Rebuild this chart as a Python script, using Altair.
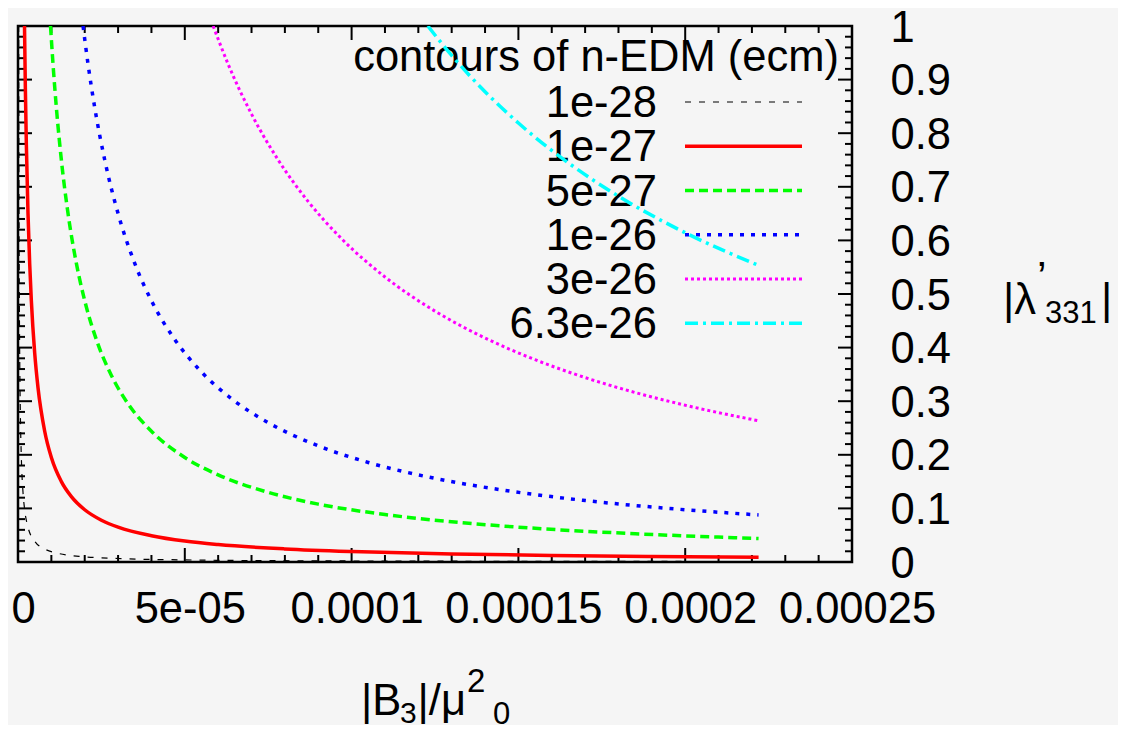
import altair as alt
import pandas as pd

# ---------------- data (x in units of 1e-5) ----------------
X_UNIT = 1e-5

series_names = ["1e-28", "1e-27", "5e-27", "1e-26", "3e-26", "6.3e-26"]
series_colors = ["#000000", "#ff0000", "#00ff00", "#0000ff", "#ff00ff", "#00ffff"]

x_1e28 = [0.0195, 0.025, 0.03, 0.04, 0.05, 0.07, 0.1, 0.15, 0.2, 0.3, 0.5, 0.8, 1.2, 2, 3, 5, 8, 12, 17, 22.2]
y_1e28 = [1.0, 0.78, 0.65, 0.4875, 0.39, 0.279, 0.195, 0.13, 0.0975, 0.065, 0.039, 0.0244, 0.01625, 0.00975,
          0.0065, 0.0039, 0.0024, 0.0016, 0.00115, 0.00088]

x_1e27 = [0.195, 0.22, 0.25, 0.3, 0.35, 0.4, 0.5, 0.6, 0.8, 1.0, 1.3, 1.6, 2.0, 2.5, 3, 4, 5, 6, 8, 10, 13, 16, 19, 22.2]
y_1e27 = [1.0, 0.886, 0.78, 0.65, 0.557, 0.4875, 0.39, 0.325, 0.244, 0.195, 0.15, 0.122, 0.0975, 0.078, 0.065,
          0.049, 0.039, 0.0325, 0.0244, 0.0195, 0.015, 0.0122, 0.0103, 0.00878]

x_5e27 = [0.975, 1.05, 1.15, 1.3, 1.5, 1.75, 2, 2.4, 2.8, 3.3, 4, 5, 6, 7.5, 9, 11, 13, 15.5, 18.5, 22.2]
y_5e27 = [1.0, 0.9286, 0.8478, 0.75, 0.65, 0.557, 0.4875, 0.406, 0.348, 0.295, 0.244, 0.195, 0.1625, 0.13,
          0.108, 0.0886, 0.075, 0.0629, 0.0527, 0.0439]

x_1e26 = [1.95, 2.1, 2.3, 2.6, 3, 3.5, 4, 4.7, 5.5, 6.5, 7.5, 9, 10.5, 12.5, 14.5, 17, 19.5, 22.2]
y_1e26 = [1.0, 0.9286, 0.8478, 0.75, 0.65, 0.557, 0.4875, 0.415, 0.3545, 0.3, 0.26, 0.2167, 0.1857, 0.156,
          0.1345, 0.1147, 0.1, 0.0878]

x_3e26 = [5.85, 6.3, 7, 7.8, 8.7, 9.7, 11, 12.5, 14, 15.5, 17, 18.5, 20, 22.2]
y_3e26 = [1.0, 0.9286, 0.8357, 0.75, 0.6724, 0.6031, 0.5318, 0.468, 0.4179, 0.3774, 0.3441, 0.3162, 0.2925, 0.2635]

x_63e26 = [12.285, 13, 14, 15, 16.5, 18, 20, 22.2]
y_63e26 = [1.0, 0.945, 0.8775, 0.819, 0.7445, 0.6825, 0.6143, 0.5534]

series_x = [x_1e28, x_1e27, x_5e27, x_1e26, x_3e26, x_63e26]
series_y = [y_1e28, y_1e27, y_5e27, y_1e26, y_3e26, y_63e26]

x_tick_values = [0, 5e-5, 1e-4, 1.5e-4, 2e-4, 2.5e-4]
x_tick_labels = ["0", "5e-05", "0.0001", "0.00015", "0.0002", "0.00025"]
x_minor_values = [k * 1e-5 for k in range(26) if k % 5 != 0]
y_tick_values = [0, 0.1, 0.2, 0.3, 0.4, 0.5, 0.6, 0.7, 0.8, 0.9, 1.0]
y_tick_labels = ["0", "0.1", "0.2", "0.3", "0.4", "0.5", "0.6", "0.7", "0.8", "0.9", "1"]
y_minor_values = [k * 0.02 for k in range(51) if k % 5 != 0]

legend_title = "contours of n-EDM (ecm)"

# ---------------- styles ----------------
FONT = "Liberation Sans"
FS = 43.5
W, H = 834, 536
OX, OY = 18, 26  # page position of plot origin
series_dash = [[6, 8], None, [9, 5], [4, 7], [3, 3], [13, 5, 3, 5]]
series_width = [1.2, 3.5, 3.5, 3.5, 3.0, 3.5]

xscale = alt.Scale(domain=[0, 2.5e-4], nice=False, zero=False)
yscale = alt.Scale(domain=[0, 1], nice=False, zero=False)

x_label_expr = "[" + ",".join(f"'{s}'" for s in x_tick_labels) + "][round(datum.value / 0.00005)]"
y_label_expr = "[" + ",".join(f"'{s}'" for s in y_tick_labels) + "][round(datum.value * 10)]"

xaxis = alt.Axis(values=x_tick_values, labelExpr=x_label_expr, ticks=False, tickSize=0, domain=False,
                 grid=False, labelFontSize=FS, labelFont=FONT, labelColor="black", labelPadding=60,
                 labelBaseline="alphabetic", labelOffset=5, labelFlush=False, labelOverlap=False, title=None)
yaxis = alt.Axis(orient="right", values=y_tick_values, labelExpr=y_label_expr, ticks=False, tickSize=0,
                 domain=False, grid=False, labelFontSize=FS, labelFont=FONT, labelColor="black",
                 labelPadding=38, labelBaseline="alphabetic", labelOffset=15, labelAlign="left",
                 labelFlush=False, labelOverlap=False, labelBound=False, title=None)


def X(field):
    return alt.X(field, type="quantitative", scale=xscale, axis=xaxis)


def Y(field):
    return alt.Y(field, type="quantitative", scale=yscale, axis=yaxis)


dummy = pd.DataFrame({"d": [0]})


def text_at(txt, px, py, size=FS, align="left"):
    return alt.Chart(dummy).mark_text(
        text=txt, font=FONT, fontSize=size, color="black", align=align, baseline="alphabetic"
    ).encode(x=alt.value(px - OX), y=alt.value(py - OY))


layers = []

# tick marks (inward, all four sides)
xmaj = pd.DataFrame({"v": x_tick_values})
xmin = pd.DataFrame({"v": x_minor_values})
ymaj = pd.DataFrame({"v": y_tick_values})
ymin = pd.DataFrame({"v": y_minor_values})
for df, ln in [(xmaj, 14), (xmin, 7)]:
    layers.append(alt.Chart(df).mark_rule(color="black", strokeWidth=2).encode(
        x=X("v"), y=alt.value(0), y2=alt.value(ln)))
    layers.append(alt.Chart(df).mark_rule(color="black", strokeWidth=2).encode(
        x=X("v"), y=alt.value(H), y2=alt.value(H - ln)))
for df, ln in [(ymaj, 14), (ymin, 7)]:
    layers.append(alt.Chart(df).mark_rule(color="black", strokeWidth=2).encode(
        y=Y("v"), x=alt.value(0), x2=alt.value(ln)))
    layers.append(alt.Chart(df).mark_rule(color="black", strokeWidth=2).encode(
        y=Y("v"), x=alt.value(W), x2=alt.value(W - ln)))

# legend (gnuplot-style key: labels right-aligned, samples to the right)
layers.append(text_at(legend_title, 839, 71, align="right"))
for i, name in enumerate(series_names):
    ly = 102 + 44.25 * i
    layers.append(text_at(name, 657, ly + 15, align="right"))
    kw = dict(color=series_colors[i], strokeWidth=series_width[i])
    if series_dash[i]:
        kw["strokeDash"] = series_dash[i]
    layers.append(alt.Chart(dummy).mark_rule(**kw).encode(
        x=alt.value(685 - OX), x2=alt.value(802 - OX), y=alt.value(ly - OY)))

# contour curves
for i, name in enumerate(series_names):
    df = pd.DataFrame({"x": [v * X_UNIT for v in series_x[i]], "y": series_y[i]})
    kw = dict(color=series_colors[i], strokeWidth=series_width[i], interpolate="monotone", clip=True)
    if series_dash[i]:
        kw["strokeDash"] = series_dash[i]
    layers.append(alt.Chart(df).mark_line(**kw).encode(x=X("x"), y=Y("y")))

# axis titles (gnuplot enhanced text, composed)
layers += [
    text_at("|B", 361, 715),
    text_at("3", 400, 723, size=30),
    text_at("|/μ", 417.5, 715),
    text_at("2", 467, 692, size=33),
    text_at("0", 493, 724, size=31),
    text_at("|λ", 1003, 314),
    text_at("’", 1037, 291, size=43),
    text_at("331", 1045, 323, size=31),
    text_at("|", 1101, 314),
]

chart = alt.layer(*layers).properties(
    width=W, height=H,
    autosize=alt.AutoSizeParams(type="none"),
    padding={"left": 10, "top": 18, "right": 266, "bottom": 163},
).configure(background="#f5f5f5").configure_view(stroke="black", strokeWidth=2.5)

chart.save("out.html", embed_options={"renderer": "svg", "actions": False})
